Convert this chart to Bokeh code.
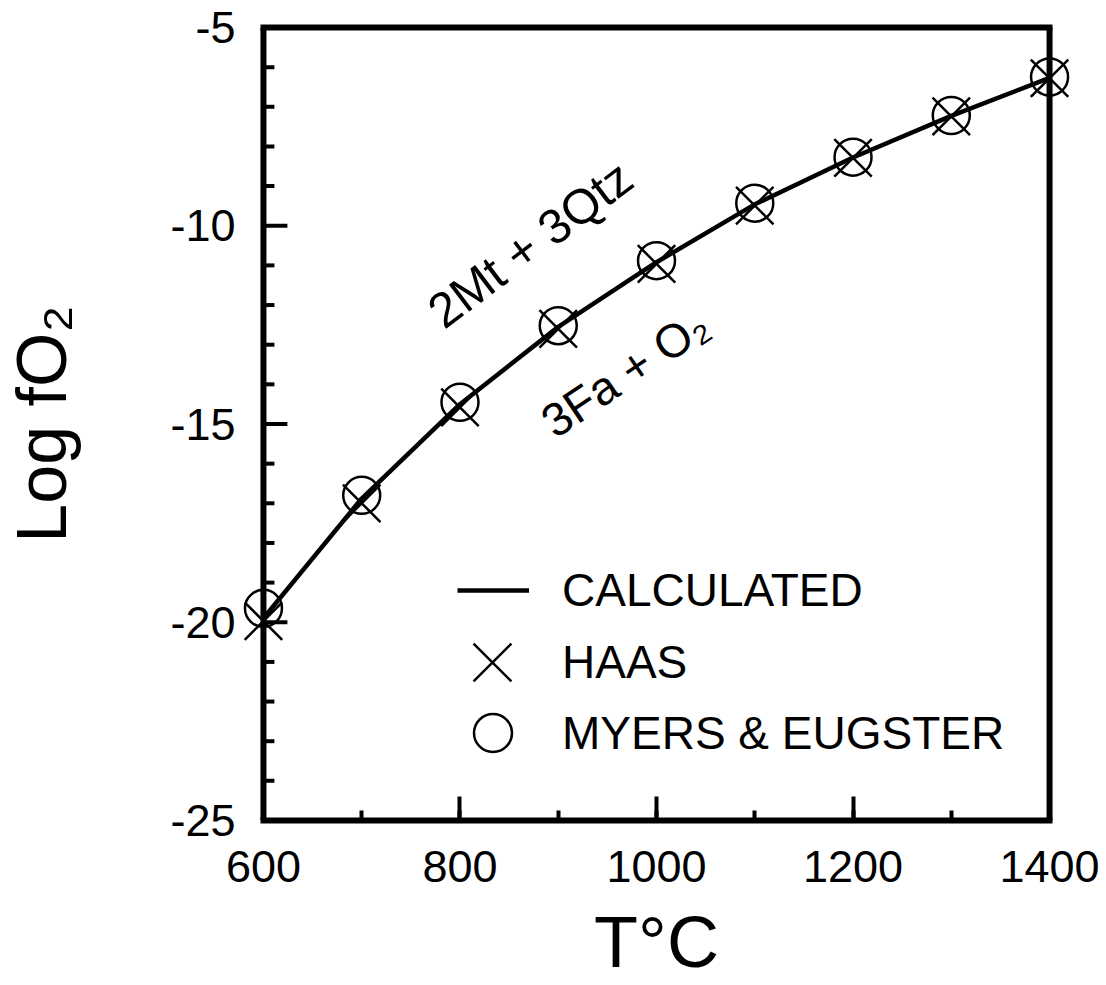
import math
from bokeh.plotting import figure
from bokeh.models import (Range1d, LinearAxis, SingleIntervalTicker, FixedTicker,
                          Legend, LegendItem, Grid, Span, Label, PrintfTickFormatter)
from bokeh.embed import file_html
from bokeh.resources import INLINE

# ---- data ----
temps = [600, 700, 800, 900, 1000, 1100, 1200, 1300, 1400]
calculated = [-19.9, -16.88, -14.5, -12.55, -10.92, -9.46, -8.28, -7.23, -6.27]
haas = [-19.97, -17.0, -14.58, -12.6, -10.96, -9.49, -8.29, -7.24, -6.28]
myers_eugster = [-19.65, -16.8, -14.45, -12.52, -10.88, -9.43, -8.27, -7.22, -6.25]

y_major_ticks = [-25, -20, -15, -10, -5]
y_minor_ticks = [-24, -23, -22, -21, -19, -18, -17, -16, -14, -13, -12, -11,
                 -9, -8, -7, -6]

series_labels = ["CALCULATED", "HAAS", "MYERS & EUGSTER"]
x_title = "T°C"
y_title = "Log fO₂"
upper_phase = "2Mt + 3Qtz"
lower_phase = "3Fa + O₂"

x_lo, x_hi = 600, 1400
y_lo, y_hi = -25, -5

FONT = "Liberation Sans"

# ---- layout geometry (pixels) ----
W, H = 1106, 985
frame_left, frame_right = 239, 1071
frame_top, frame_bottom = 27, 820
pad_px = 22  # room so that markers on the edges are not clipped
ppu = (frame_right - frame_left - 2 * pad_px) / (x_hi - x_lo)  # px per degree
pad = pad_px / ppu

p = figure(width=W, height=H, output_backend="svg", toolbar_location=None,
           x_range=Range1d(x_lo - pad, x_hi + pad), y_range=Range1d(y_lo, y_hi),
           x_axis_location=None, y_axis_location=None,
           min_border_left=frame_left, min_border_right=W - frame_right,
           min_border_top=frame_top, min_border_bottom=H - frame_bottom)
p.outline_line_color = None
p.background_fill_color = "white"
p.border_fill_color = "white"
for g in list(p.center):
    if isinstance(g, Grid):
        p.center.remove(g)


def style_axis(ax, tick_in, minor_in):
    ax.axis_line_width = 6
    ax.axis_line_color = "black"
    ax.axis_line_cap = "square"
    ax.major_tick_in = tick_in
    ax.major_tick_out = 0
    ax.minor_tick_in = minor_in
    ax.minor_tick_out = 0
    ax.major_tick_line_width = 4
    ax.minor_tick_line_width = 4
    ax.major_tick_line_color = "black"
    ax.minor_tick_line_color = "black"
    ax.major_label_text_font = FONT
    ax.major_label_text_font_size = "45px"
    ax.major_label_text_color = "black"
    ax.axis_label_text_font = FONT
    ax.axis_label_text_font_style = "normal"
    ax.axis_label_text_color = "black"


# bottom axis
xa = LinearAxis(ticker=SingleIntervalTicker(interval=200, num_minor_ticks=2),
                bounds=(x_lo, x_hi), axis_label=x_title)
style_axis(xa, 24, 10)
xa.major_label_standoff = 30
xa.axis_label_text_font_size = "72px"
xa.axis_label_standoff = 17
p.add_layout(xa, "below")

# left axis: labels and title only (line & ticks are drawn at x = 600 below)
ya = LinearAxis(ticker=FixedTicker(ticks=y_major_ticks),
                formatter=PrintfTickFormatter(format="%d"), axis_label=y_title)
style_axis(ya, 0, 0)
ya.axis_line_color = None
ya.major_tick_line_color = None
ya.minor_tick_line_color = None
ya.major_label_standoff = 6
ya.axis_label_text_font_size = "70px"
ya.axis_label_standoff = 86
p.add_layout(ya, "left")

# top frame line
ta = LinearAxis(ticker=FixedTicker(ticks=[]), bounds=(x_lo, x_hi))
style_axis(ta, 0, 0)
p.add_layout(ta, "above")

# left and right frame lines
p.add_layout(Span(location=x_lo, dimension="height", line_color="black", line_width=6))
p.add_layout(Span(location=x_hi, dimension="height", line_color="black", line_width=6))

# left ticks (inward)
major_len = 24 / ppu
minor_len = 11 / ppu
p.segment(x0=[x_lo] * len(y_major_ticks), y0=y_major_ticks,
          x1=[x_lo + major_len] * len(y_major_ticks), y1=y_major_ticks,
          line_color="black", line_width=4)
p.segment(x0=[x_lo] * len(y_minor_ticks), y0=y_minor_ticks,
          x1=[x_lo + minor_len] * len(y_minor_ticks), y1=y_minor_ticks,
          line_color="black", line_width=4)

# ---- glyphs ----
line_r = p.line(temps, calculated, line_width=4.5, line_color="black")
myers_r = p.scatter(temps, myers_eugster, marker="circle", size=37, fill_color=None,
                    line_color="black", line_width=2.5)
haas_r = p.scatter(temps, haas, marker="x", size=53, line_color="black", line_width=2.5)

# ---- legends ----
common = dict(padding=0, margin=0, spacing=0, border_line_color=None,
              background_fill_alpha=0, label_text_font=FONT,
              label_text_font_size="46px", label_text_color="black")
leg1 = Legend(items=[LegendItem(label=series_labels[0], renderers=[line_r])],
              location=(216, 200), glyph_width=72, glyph_height=60, label_height=60,
              label_standoff=33, **common)
leg2 = Legend(items=[LegendItem(label=series_labels[1], renderers=[haas_r])],
              location=(184, 91), glyph_width=134, glyph_height=134, label_height=134,
              label_standoff=3, **common)
leg3 = Legend(items=[LegendItem(label=series_labels[2], renderers=[myers_r])],
              location=(204, 40), glyph_width=95, glyph_height=95, label_height=95,
              label_standoff=22, **common)
p.add_layout(leg1)
p.add_layout(leg2)
p.add_layout(leg3)

# ---- text annotations ----
p.add_layout(Label(x=790, y=-12.84, text=upper_phase, angle=math.radians(37),
                   text_font=FONT, text_font_size="49px", text_color="black"))
p.add_layout(Label(x=903, y=-15.6, text=lower_phase, angle=math.radians(34),
                   text_font=FONT, text_font_size="47px", text_color="black"))

open("out.html", "w").write(file_html(p, INLINE))
